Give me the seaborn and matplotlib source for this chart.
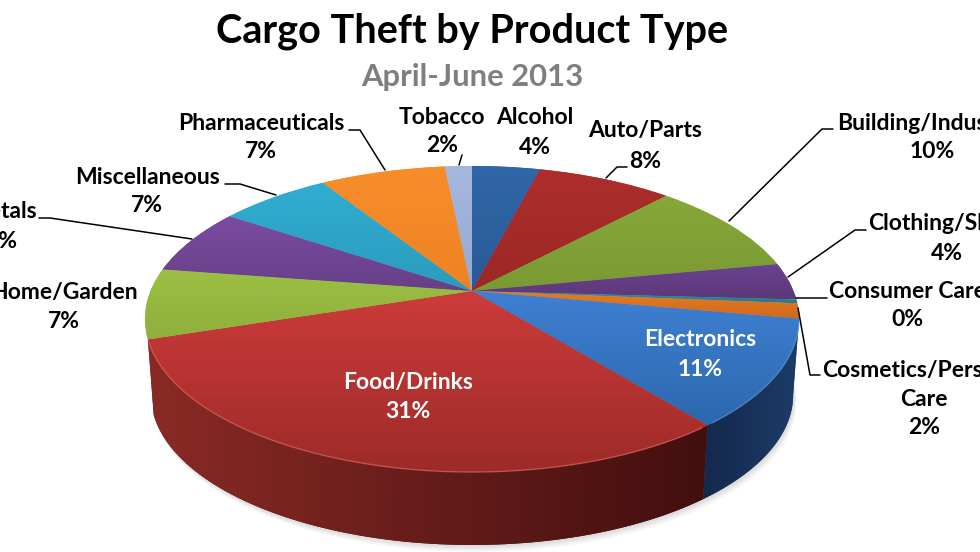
import numpy as np
import matplotlib
matplotlib.use('Agg')
import matplotlib.pyplot as plt
import seaborn as sns
from matplotlib.patches import Polygon
from matplotlib.transforms import Transform

# Datos
categorias = ['Alcohol', 'Auto/Parts', 'Building/Industrial', 'Clothing/Shoes', 'Consumer Care',
              'Cosmetics/Personal Care', 'Electronics', 'Food/Drinks', 'Home/Garden', 'Metals',
              'Miscellaneous', 'Pharmaceuticals', 'Tobacco']
valores = [4.0, 8.0, 10.0, 3.9, 0.4, 1.6, 11.3, 30.8, 7.4, 7.0, 6.6, 7.4, 1.6]

color_alto = ['#2f67a8', '#ad2e2c', '#86a83a', '#6a4290', '#2f93ad', '#e57b22', '#3f80d2', '#cc3b39',
              '#9cc044', '#7a4ba0', '#30aed2', '#f88e2a', '#a5b9df']
color_bajo = ['#2a5a96', '#9c2825', '#7a9a33', '#5c3878', '#27798f', '#d0691c', '#2c68ae', '#9c2b29',
              '#8fb03c', '#674088', '#2b9bbd', '#ec8224', '#94a9d2']

# Lado visible del disco: color izquierda y derecha
lado = {'Food/Drinks': ('#8a2a26', '#420f0e'), 'Electronics': ('#14294c', '#1d3c68')}

titulo = 'Cargo Theft by Product Type'
subtitulo = 'April-June 2013'

CX, CY_APEX = 472, 291
TILT_K, TILT_A, TILT_B = 0.183, 321.5, 147.9
ELIPSE_Y = 319
BASE_Y = 395
FS = 16.5


class Tilt(Transform):
    # Lleva el circulo unidad a la elipse en perspectiva (pixeles de la imagen)
    input_dims = 2
    output_dims = 2

    def transform_non_affine(self, values):
        values = np.asarray(values, dtype=float)
        u, v = values[:, 0], values[:, 1]
        w = 1 + TILT_K * v
        return np.column_stack([CX + TILT_A * u / w, CY_APEX - TILT_B * v / w])


def rim(theta, tilt):
    pts = tilt.transform_non_affine(np.column_stack([np.sin(theta), np.cos(theta)]))
    return pts


def base(pts):
    return np.column_stack([CX + 0.982 * (pts[:, 0] - CX), BASE_Y + 0.98 * (pts[:, 1] - ELIPSE_Y)])


sns.set_theme(style='white')
plt.rcParams['font.family'] = ['Lato', 'DejaVu Sans']
plt.rcParams['font.weight'] = 'bold'

fig = plt.figure(figsize=(9.8, 5.52), dpi=100)
ax = fig.add_axes([0, 0, 1, 1])
tilt = Tilt()

# Sombra suave bajo el disco
todo = np.linspace(0, 2 * np.pi, 200)
for off in [7, 5, 3.5, 2]:
    contorno = base(rim(todo, tilt))
    ax.fill(contorno[:, 0] + off * 0.5, contorno[:, 1] + off, color='#808080', alpha=0.07, lw=0)

# Pared lateral: degradado horizontal recortado con el contorno de cada tramo
acumulado = np.cumsum([0] + valores) / sum(valores) * 2 * np.pi
for i, nombre in enumerate(categorias):
    if nombre not in lado:
        continue
    angulos = np.linspace(acumulado[i], acumulado[i + 1], 80)
    arriba = rim(angulos, tilt)
    abajo = base(arriba)
    borde = np.vstack([arriba, abajo[::-1]])
    pared = Polygon(borde, closed=True, facecolor=lado[nombre][1], lw=0, zorder=1.1)
    ax.add_patch(pared)
    grad = np.array(sns.blend_palette(list(lado[nombre]), 128))[None, :, :]
    im = ax.imshow(grad, extent=(borde[:, 0].min(), borde[:, 0].max(), borde[:, 1].max(), borde[:, 1].min()),
                   aspect='auto', zorder=1.2, interpolation='bilinear')
    im.set_clip_path(pared)

# Cara superior: pie normal deformado con la perspectiva
wedges, _ = ax.pie(valores, colors=color_alto, startangle=90, counterclock=False,
                   wedgeprops={'linewidth': 0})
ax.set_aspect('auto')
for w, alto, bajo in zip(wedges, color_alto, color_bajo):
    w.set_transform(tilt + ax.transData)
    w.set_zorder(1.4)
    grad = np.array(sns.blend_palette([alto, bajo], 64))[:, None, :]
    pts = tilt.transform_non_affine(w.get_path().vertices)
    im = ax.imshow(grad, extent=(pts[:, 0].min(), pts[:, 0].max(), pts[:, 1].max(), pts[:, 1].min()),
                   aspect='auto', zorder=1.5, interpolation='bilinear')
    im.set_clip_path(w)

# Brillo del borde frontal
frente = rim(np.linspace(acumulado[7] + 0.02, acumulado[8] - 0.02, 80), tilt)
ax.plot(frente[:, 0], frente[:, 1], color='#d9605a', lw=1.0, alpha=0.7, zorder=2)
frente = rim(np.linspace(acumulado[6] + 0.02, acumulado[7] - 0.02, 50), tilt)
ax.plot(frente[:, 0], frente[:, 1], color='#5c97dc', lw=1.0, alpha=0.6, zorder=2)

ax.set_xlim(0, 980)
ax.set_ylim(552, 0)
ax.axis('off')

# Titulos
ax.text(472, 31, titulo, ha='center', va='center', fontsize=28.5, color='black')
ax.text(472, 77, subtitulo, ha='center', va='center', fontsize=22.3, color='#7f7f7f')

# Etiquetas: (indice, x, y del nombre, y del porcentaje, color)
etiquetas = [(0, 535, 118, 147, 'black'), (1, 645, 131, 161, 'black'), (2, 932, 123, 152, 'black'),
             (3, 947, 224, 253, 'black'), (4, 907, 291, 320, 'black'), (6, 700, 340, 369, 'white'),
             (7, 408, 382, 411, 'white'), (8, 64, 292, 321, 'black'), (9, 2, 211, 241, 'black'),
             (10, 147, 177, 205, 'black'), (11, 261, 123, 152, 'black'), (12, 442, 117, 145, 'black')]
for i, x, y1, y2, col in etiquetas:
    ax.text(x, y1, categorias[i], ha='center', va='center', fontsize=FS, color=col)
    ax.text(x, y2, f'{valores[i]:.0f}%', ha='center', va='center', fontsize=FS, color=col)
ax.text(924, 370, 'Cosmetics/Personal', ha='center', va='center', fontsize=FS, color='black')
ax.text(924, 399, 'Care', ha='center', va='center', fontsize=FS, color='black')
ax.text(924, 428, f'{valores[5]:.0f}%', ha='center', va='center', fontsize=FS, color='black')

# Lineas guia
guias = [([349, 360, 385], [130, 130, 170]), ([225, 240, 276], [184, 184, 195]),
         ([39, 50, 192], [218, 218, 239]), ([462, 459], [155, 165]),
         ([627, 617, 606], [167, 167, 178]), ([833, 822, 729], [129, 129, 221]),
         ([866, 855, 788], [230, 230, 277]), ([827, 796], [298, 298]),
         ([798, 810, 820], [308, 375, 375])]
for gx, gy in guias:
    ax.plot(gx, gy, color='black', lw=1.1, zorder=3)

fig.savefig('out.png', dpi=100)
